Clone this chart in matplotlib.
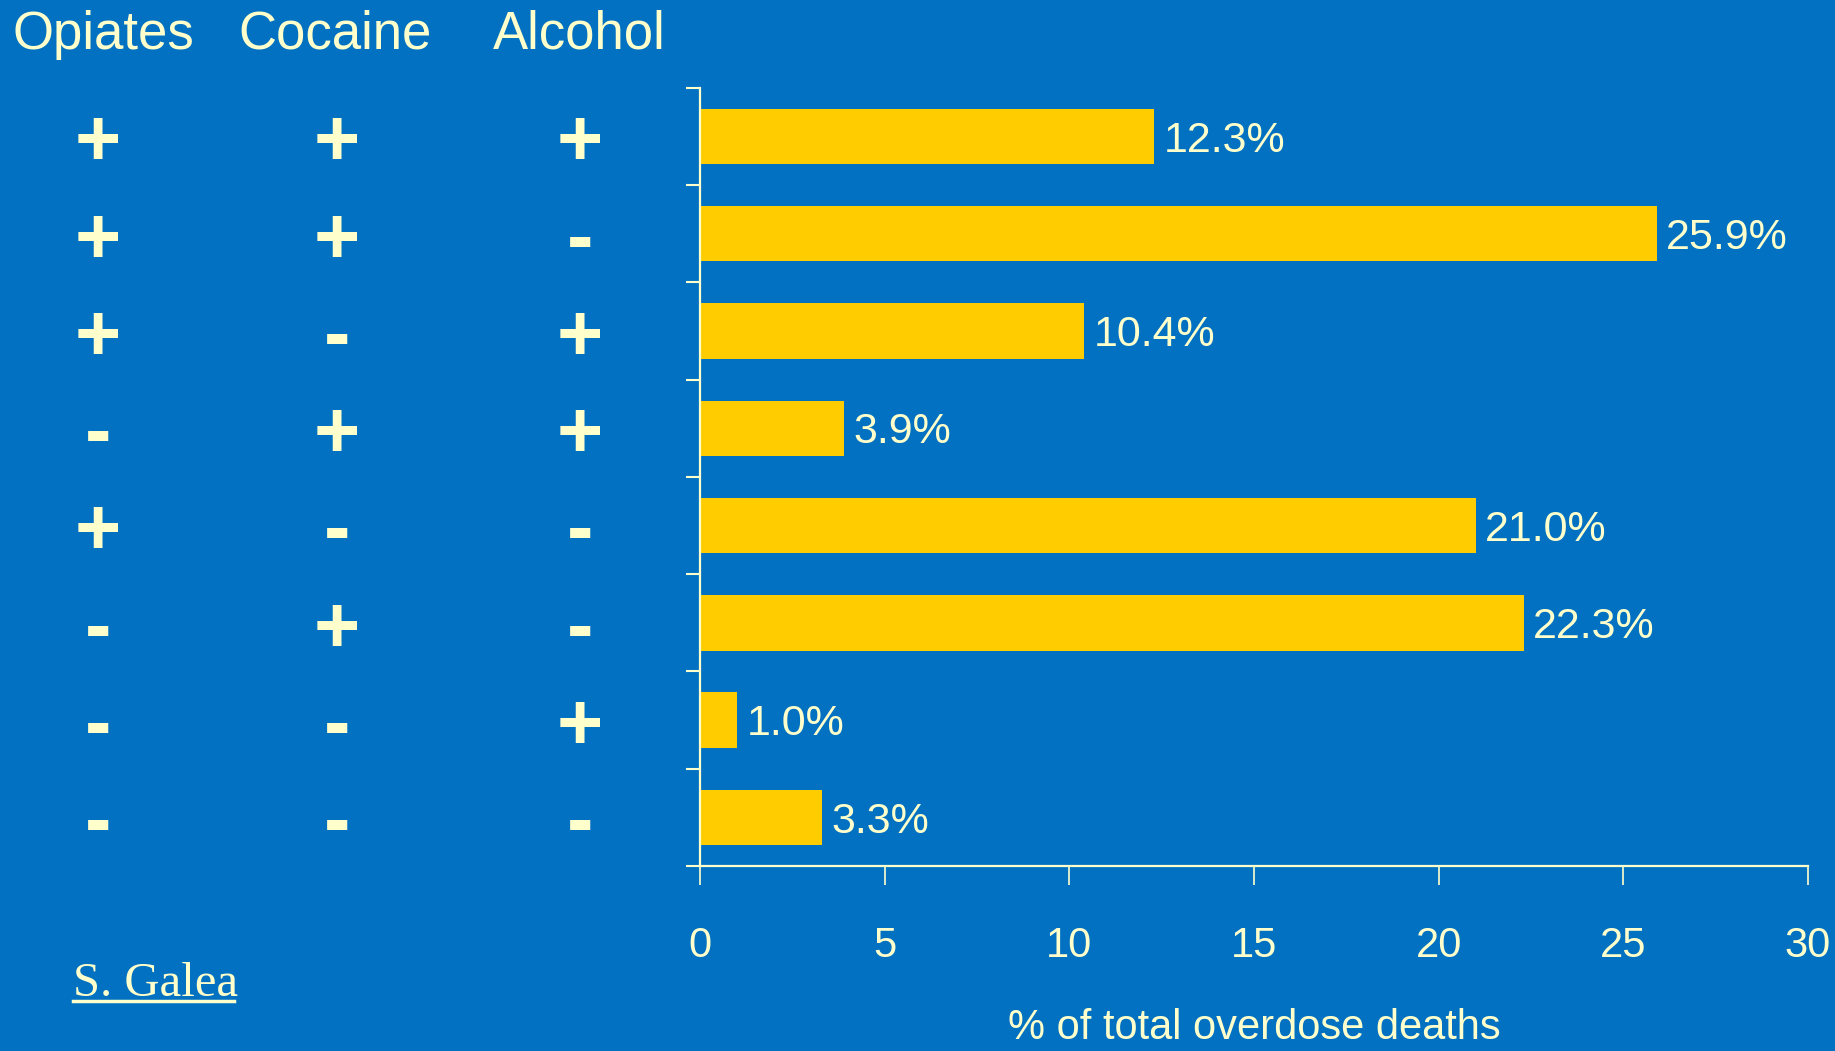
import matplotlib
matplotlib.use("Agg")
import matplotlib.pyplot as plt
import matplotlib.transforms as mtransforms
from matplotlib.ticker import FixedLocator

bg = "#0271C2"
bar_color = "#FFCC00"
txt_color = "#FFFFCC"

# drug combinations per row (top to bottom) and their share of deaths
opiates = ["+", "+", "+", "-", "+", "-", "-", "-"]
cocaine = ["+", "+", "-", "+", "-", "+", "-", "-"]
alcohol = ["+", "-", "+", "+", "-", "-", "+", "-"]
pct = [12.3, 25.9, 10.4, 3.9, 21.0, 22.3, 1.0, 3.3]
headers = ["Opiates", "Cocaine", "Alcohol"]
xticks = [0, 5, 10, 15, 20, 25, 30]

sans = ["Liberation Sans", "DejaVu Sans"]

fig = plt.figure(figsize=(18.35, 10.51), dpi=100)
fig.patch.set_facecolor(bg)
ax = fig.add_axes([0.3815, 0.176, 0.6038, 0.7405])
ax.set_facecolor(bg)

rows = list(range(len(pct)))
ax.barh(rows, pct, height=0.57, color=bar_color, zorder=2)
ax.set_ylim(len(pct) - 0.5, -0.5)
ax.set_xlim(0, 30)

for y, v in zip(rows, pct):
    ax.annotate(f"{v:.1f}%", xy=(v, y), xytext=(7, -3), textcoords="offset points",
                va="center", ha="left", fontsize=31, color=txt_color, family=sans)

# axes styling
for s in ["top", "right"]:
    ax.spines[s].set_visible(False)
for s in ["left", "bottom"]:
    ax.spines[s].set_color(txt_color)
    ax.spines[s].set_linewidth(1.6)
ax.xaxis.set_major_locator(FixedLocator(xticks))
ax.set_xticklabels([str(t) for t in xticks], family=sans, fontsize=30, color=txt_color)
ax.tick_params(axis="x", direction="out", length=13.5, width=1.2, color=txt_color, pad=30)
ax.yaxis.set_major_locator(FixedLocator([r - 0.5 for r in rows] + [len(pct) - 0.5]))
ax.set_yticklabels([])
ax.tick_params(axis="y", direction="out", length=10, width=1.5, color=txt_color)

fig.text(0.6835, 0.022, "% of total overdose deaths", ha="center", va="center",
         fontsize=30, color=txt_color, family=sans)

# header row and +/- grid on the left
hx = [12 / 1835, 238 / 1835, 493 / 1835]
for x, h in zip(hx, headers):
    fig.text(x, 0.9534, h, ha="left", va="baseline", fontsize=38,
             color=txt_color, family=sans)

trans = mtransforms.blended_transform_factory(fig.transFigure, ax.transData)
trans = trans + mtransforms.ScaledTranslation(0, -6 / 72, fig.dpi_scale_trans)
sx = [98 / 1835, 337 / 1835, 580 / 1835]
for x, col in zip(sx, [opiates, cocaine, alcohol]):
    for y, s in zip(rows, col):
        fig.text(x, y, s, transform=trans, ha="center", va="center",
                 fontsize=57, fontweight="bold", color=txt_color, family=sans)

fig.text(73 / 1835, 1 - 996 / 1051, "S. Galea", ha="left", va="baseline",
         fontsize=35, color=txt_color, family="Liberation Serif")
fig.add_artist(plt.Line2D([73 / 1835, 234 / 1835], [1 - 1001 / 1051] * 2,
                          transform=fig.transFigure, color=txt_color, lw=2.5))

fig.savefig("out.png", dpi=100, facecolor=bg)
